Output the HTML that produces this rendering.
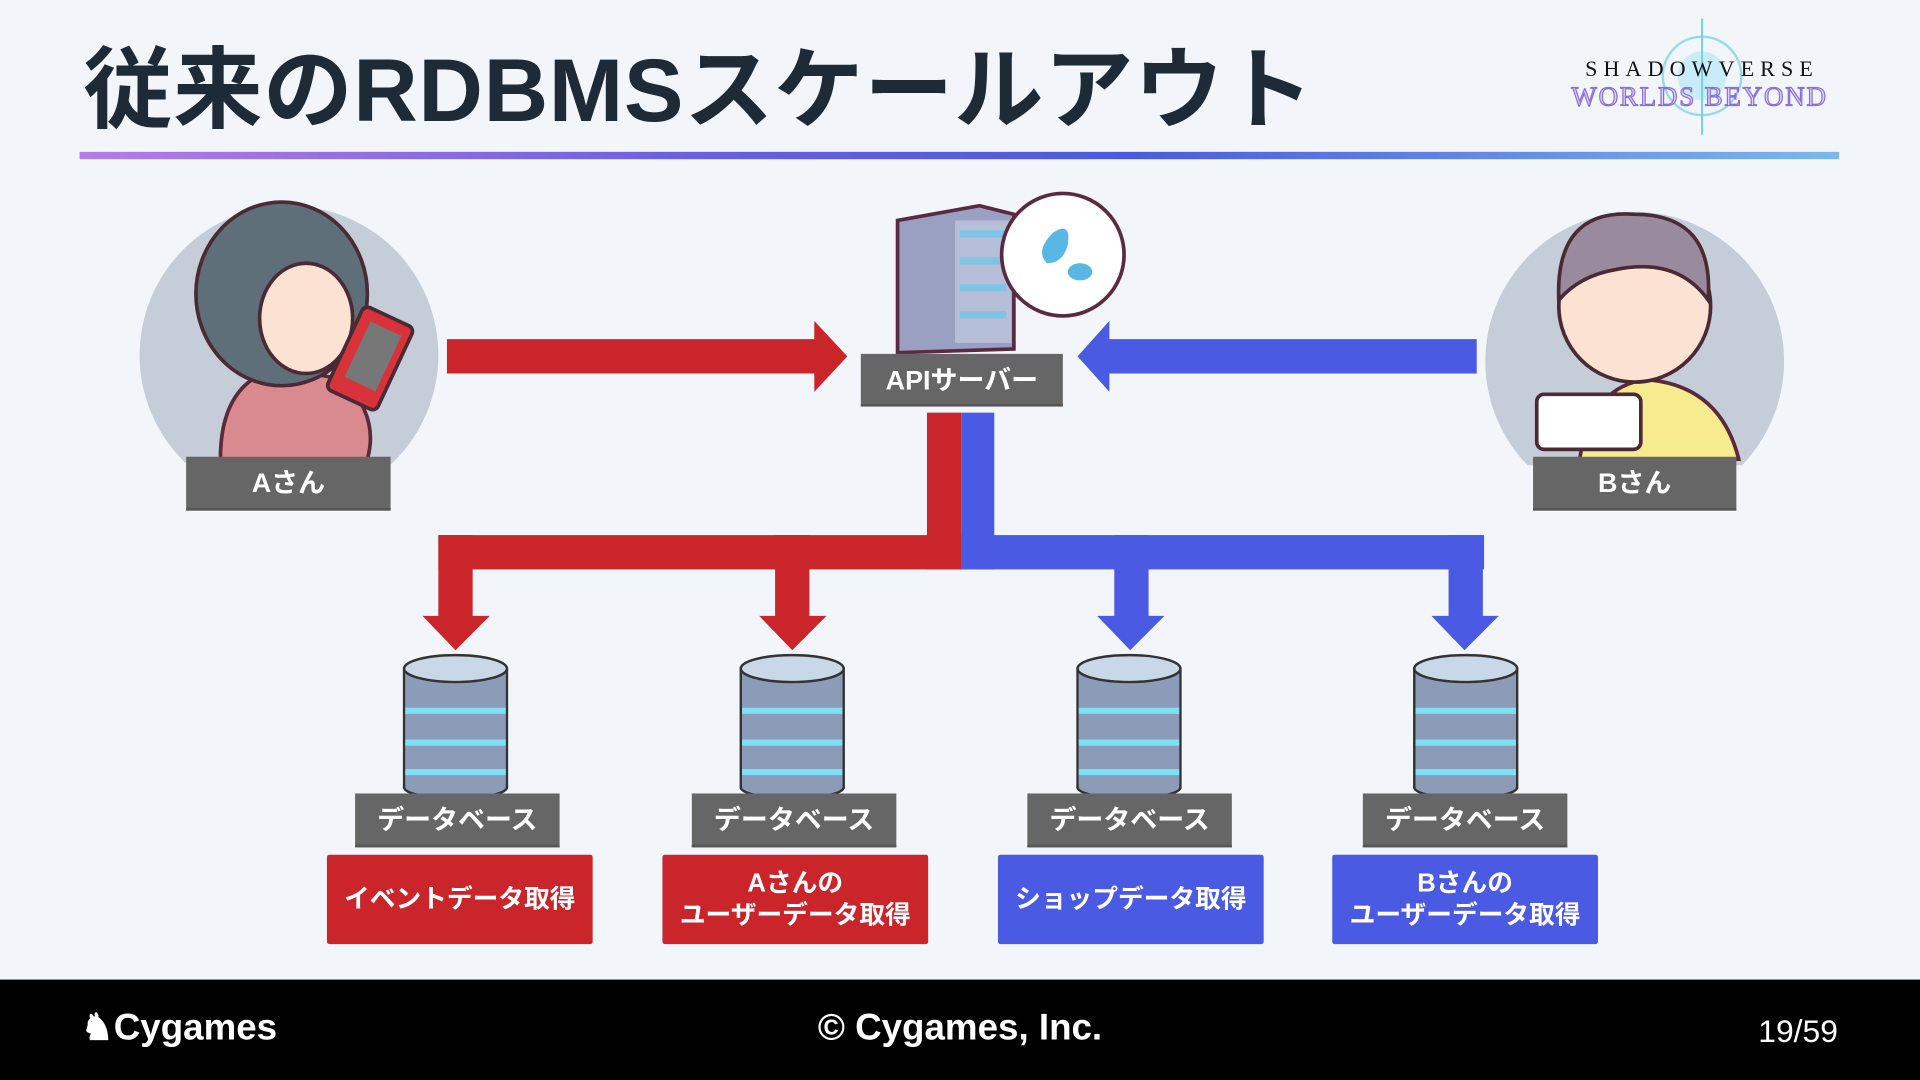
<!DOCTYPE html>
<html><head><meta charset="utf-8"><style>
html,body{margin:0;padding:0;width:1920px;height:1080px;overflow:hidden;background:#f2f6fb}
#s{position:absolute;left:0;top:0;width:1568px;height:882px;transform:scale(1.22449);transform-origin:0 0;background:#f2f6fb;font-family:"Liberation Sans","Noto Sans CJK JP",sans-serif}
.a{position:absolute}
.lab{position:absolute;background:#666;color:#fff;font-weight:bold;font-size:22px;text-align:center;box-sizing:border-box;border-bottom:2px solid #555}
.box{position:absolute;color:#fff;font-weight:bold;font-size:21px;text-align:center;display:flex;align-items:center;justify-content:center;line-height:26px;border-radius:2px}
.red{background:#c9252b}.blue{background:#4a5ae3}
</style></head><body><div id="s">
<div class="a" style="left:68px;top:30px;font-size:73px;font-weight:bold;color:#1f2a37;letter-spacing:0.5px;line-height:90px">従来のRDBMSスケールアウト</div>
<div class="a" style="left:65px;top:124px;width:1437px;height:6px;background:linear-gradient(90deg,#b47de6,#6a5ee2 35%,#4a5be0 60%,#7bb9e9)"></div>
<svg class="a" style="left:1260px;top:10px" width="260" height="105">
<circle cx="130" cy="52" r="32" fill="none" stroke="#6cd0ea" stroke-width="2" opacity=".7"/>
<circle cx="130" cy="52" r="20" fill="#9fe4f5" opacity=".5"/>
<line x1="130" y1="5" x2="130" y2="100" stroke="#6cd0ea" stroke-width="1.5"/>
<text x="130" y="52" text-anchor="middle" font-family="Liberation Serif,serif" font-size="18" letter-spacing="5" fill="#111">SHADOWVERSE</text>
<text x="128" y="76" text-anchor="middle" font-family="Liberation Serif,serif" font-size="22" letter-spacing="1.5" fill="#e0d6fa" stroke="#8a6fd8" stroke-width="1">WORLDS BEYOND</text>
</svg>
<svg class="a" style="left:110px;top:150px" width="260" height="230">
<circle cx="126" cy="140" r="122" fill="#c5cdd8"/>
<path d="M70 225 Q70 160 120 150 L170 160 Q200 190 190 225Z" fill="#d98a8f" stroke="#5a2a3a" stroke-width="3"/>
<ellipse cx="120" cy="90" rx="70" ry="75" fill="#5f6f7a" stroke="#4a2a35" stroke-width="3"/>
<ellipse cx="140" cy="110" rx="38" ry="45" fill="#fbe2d2" stroke="#4a2a35" stroke-width="3"/>
<rect x="170" y="105" width="45" height="75" rx="5" transform="rotate(25 192 142)" fill="#d8323a" stroke="#4a2a35" stroke-width="3"/>
<rect x="180" y="115" width="28" height="50" transform="rotate(25 192 142)" fill="#777"/>
</svg>
<div class="lab" style="left:152px;top:373px;width:167px;height:44px;line-height:44px">Aさん</div>
<svg class="a" style="left:1210px;top:150px" width="260" height="230">
<circle cx="125" cy="145" r="122" fill="#c5cdd8"/>
<path d="M80 225 Q90 165 135 160 Q195 165 210 225Z" fill="#f7eb8f" stroke="#5a2a3a" stroke-width="3"/>
<ellipse cx="125" cy="100" rx="62" ry="62" fill="#fbe2d2" stroke="#4a2a35" stroke-width="3"/>
<path d="M63 95 Q60 20 125 25 Q190 25 185 95 Q160 60 110 70 Q80 75 63 95Z" fill="#9a8a9e" stroke="#4a2a35" stroke-width="3"/>
<rect x="45" y="172" width="85" height="45" rx="6" fill="#fff" stroke="#4a2a35" stroke-width="3"/>
</svg>
<div class="lab" style="left:1252px;top:373px;width:166px;height:44px;line-height:44px">Bさん</div>
<svg class="a" style="left:0;top:0" width="1568" height="882">
<polygon points="365,277 665,277 665,262 692,291 665,320 665,305 365,305" fill="#c9252b"/>
<polygon points="1206,277 906,277 906,262 880,291 906,320 906,305 1206,305" fill="#4a5ae3"/>
<rect x="757" y="337" width="28" height="128" fill="#c9252b"/>
<rect x="358" y="437" width="427" height="28" fill="#c9252b"/>
<rect x="358" y="437" width="28" height="68" fill="#c9252b"/>
<rect x="633" y="437" width="28" height="68" fill="#c9252b"/>
<polygon points="345,503 400,503 372,531" fill="#c9252b"/>
<polygon points="620,503 675,503 647,531" fill="#c9252b"/>
<rect x="785" y="337" width="27" height="128" fill="#4a5ae3"/>
<rect x="785" y="437" width="427" height="28" fill="#4a5ae3"/>
<rect x="910" y="437" width="28" height="68" fill="#4a5ae3"/>
<rect x="1183" y="437" width="28" height="68" fill="#4a5ae3"/>
<polygon points="896,503 951,503 923,531" fill="#4a5ae3"/>
<polygon points="1169,503 1224,503 1196,531" fill="#4a5ae3"/>
<polygon points="733,180 800,168 828,175 828,285 733,288" fill="#9aa0c2" stroke="#5a2a40" stroke-width="3"/>
<rect x="780" y="180" width="46" height="100" fill="#b7bfd8"/>
<g fill="#7fc4e6"><rect x="784" y="188" width="38" height="6"/><rect x="784" y="210" width="38" height="6"/><rect x="784" y="232" width="38" height="6"/><rect x="784" y="254" width="38" height="6"/></g>
<circle cx="868" cy="208" r="50" fill="#fff" stroke="#5a2a40" stroke-width="3"/>
<path d="M860 190 Q875 180 872 200 Q868 215 855 215 Q845 205 860 190Z" fill="#58b7e3"/>
<ellipse cx="882" cy="222" rx="10" ry="7" fill="#58b7e3"/>
<g id="db">
<rect x="330" y="546" width="84" height="97" fill="#8c9cb8" stroke="#333" stroke-width="2"/>
<ellipse cx="372" cy="643" rx="42" ry="9" fill="#8c9cb8" stroke="#333" stroke-width="2"/>
<rect x="331" y="548" width="82" height="95" fill="#8c9cb8"/>
<rect x="331" y="578" width="82" height="5" fill="#7ee0f4"/><rect x="331" y="604" width="82" height="5" fill="#7ee0f4"/><rect x="331" y="628" width="82" height="5" fill="#7ee0f4"/>
<ellipse cx="372" cy="546" rx="42" ry="11" fill="#c8d8e8" stroke="#333" stroke-width="2"/>
</g>
<use href="#db" x="275"/><use href="#db" x="550"/><use href="#db" x="825"/>
</svg>
<div class="lab" style="left:703px;top:289px;width:165px;height:43px;line-height:43px">APIサーバー</div>
<div class="lab" style="left:290px;top:648px;width:167px;height:44px;line-height:44px">データベース</div>
<div class="lab" style="left:565px;top:648px;width:167px;height:44px;line-height:44px">データベース</div>
<div class="lab" style="left:839px;top:648px;width:167px;height:44px;line-height:44px">データベース</div>
<div class="lab" style="left:1113px;top:648px;width:167px;height:44px;line-height:44px">データベース</div>
<div class="box red" style="left:267px;top:698px;width:217px;height:73px">イベントデータ取得</div>
<div class="box red" style="left:541px;top:698px;width:217px;height:73px">Aさんの<br>ユーザーデータ取得</div>
<div class="box blue" style="left:815px;top:698px;width:217px;height:73px">ショップデータ取得</div>
<div class="box blue" style="left:1088px;top:698px;width:217px;height:73px">Bさんの<br>ユーザーデータ取得</div>
<div class="a" style="left:0;top:800px;width:1568px;height:82px;background:#000"></div>
<div class="a" style="left:66px;top:818px;color:#fff;font-size:30px;font-weight:bold;line-height:44px">&#9822;Cygames</div>
<div class="a" style="left:584px;top:818px;width:400px;text-align:center;color:#fff;font-size:30px;font-weight:bold;line-height:44px">© Cygames, Inc.</div>
<div class="a" style="left:1400px;top:820px;width:101px;text-align:right;color:#fff;font-size:26px;line-height:44px">19/59</div>
</div></body></html>
